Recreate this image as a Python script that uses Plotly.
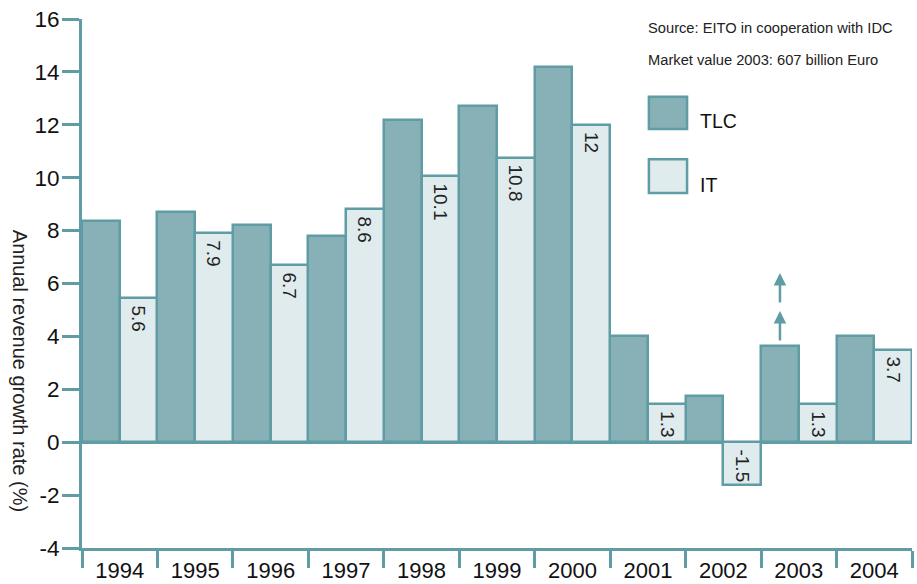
import plotly.graph_objects as go

years = ["1994", "1995", "1996", "1997", "1998", "1999", "2000", "2001", "2002", "2003", "2004"]
tlc = [8.35, 8.7, 8.2, 7.8, 12.2, 12.7, 14.2, 4.0, 1.75, 3.65, 4.0]
it = [5.45, 7.9, 6.7, 8.8, 10.05, 10.75, 12.0, 1.45, -1.6, 1.45, 3.5]
it_labels = ["5.6", "7.9", "6.7", "8.6", "10.1", "10.8", "12", "1.3", "-1.5", "1.3", "3.7"]
y_ticks = [-4, -2, 0, 2, 4, 6, 8, 10, 12, 14, 16]
y_tick_text = ["-4", "-2", "0", "2", "4", "6", "8", "10", "12", "14", "16"]
arrow_tips = [4.96, 6.4]

TEAL = "#5f9ca3"
TLC_FILL = "#87b1b7"
IT_FILL = "#e0ebed"
FONT = "Liberation Sans, Arial, sans-serif"

fig = go.Figure()
fig.add_trace(go.Bar(x=years, y=tlc, name="TLC", marker=dict(color=TLC_FILL, line=dict(color=TEAL, width=2.5))))
fig.add_trace(go.Bar(x=years, y=it, name="IT", marker=dict(color=IT_FILL, line=dict(color=TEAL, width=2.5))))

annotations = []
for i, (v, lab) in enumerate(zip(it, it_labels)):
    annotations.append(dict(
        x=i + 0.25, y=0 if v < 0 else v, xref="x", yref="y", text=lab, showarrow=False,
        textangle=90, yanchor="top", xanchor="center", yshift=-5,
        font=dict(family=FONT, size=19, color="#222222")))

idx2003 = years.index("2003")
for tip in arrow_tips:
    annotations.append(dict(
        x=idx2003 - 0.25, y=tip, xref="x", yref="y", ax=0, ay=31, axref="pixel", ayref="pixel",
        text="", showarrow=True, arrowhead=2, arrowsize=1, arrowwidth=2.5, arrowcolor=TEAL, standoff=0))

# y-axis title (reads top to bottom)
annotations.append(dict(
    x=-0.0747, y=0.335, xref="paper", yref="paper", xanchor="center", yanchor="middle",
    text="Annual revenue growth rate (%)",
    showarrow=False, textangle=90, font=dict(family=FONT, size=20, color="#222222")))

# source notes
annotations.append(dict(x=0.679, y=0.983, xref="paper", yref="paper", xanchor="left", yanchor="middle",
                        text="Source: EITO in cooperation with IDC", showarrow=False,
                        font=dict(family=FONT, size=14.7, color="#222222")))
annotations.append(dict(x=0.679, y=0.922, xref="paper", yref="paper", xanchor="left", yanchor="middle",
                        text="Market value 2003: 607 billion Euro", showarrow=False,
                        font=dict(family=FONT, size=14.7, color="#222222")))

# manual legend
shapes = [
    dict(type="rect", xref="paper", yref="paper", x0=0.683, x1=0.729, y0=0.792, y1=0.853,
         fillcolor=TLC_FILL, line=dict(color=TEAL, width=2.5)),
    dict(type="rect", xref="paper", yref="paper", x0=0.683, x1=0.729, y0=0.671, y1=0.735,
         fillcolor=IT_FILL, line=dict(color=TEAL, width=2.5)),
]
annotations.append(dict(x=0.742, y=0.807, xref="paper", yref="paper", xanchor="left", yanchor="middle",
                        text="TLC", showarrow=False, font=dict(family=FONT, size=19.5, color="#111111")))
annotations.append(dict(x=0.742, y=0.686, xref="paper", yref="paper", xanchor="left", yanchor="middle",
                        text="IT", showarrow=False, font=dict(family=FONT, size=19.5, color="#111111")))

fig.update_layout(
    width=917, height=584,
    margin=dict(l=82, r=5, t=19, b=36),
    paper_bgcolor="white", plot_bgcolor="white",
    barmode="group", bargap=0, bargroupgap=0,
    showlegend=False,
    annotations=annotations, shapes=shapes,
    font=dict(family=FONT, color="#111111"),
    xaxis=dict(type="category", tickson="boundaries", ticks="outside", ticklen=17, tickwidth=3,
               tickcolor=TEAL, showline=True, linecolor=TEAL, linewidth=3, showgrid=False,
               automargin=False, ticklabelstandoff=1,
               tickfont=dict(family=FONT, size=22, color="#111111"), fixedrange=True),
    yaxis=dict(range=[-4, 16], tickvals=y_ticks, ticktext=y_tick_text, ticks="outside", ticklen=17,
               tickwidth=3, tickcolor=TEAL, showline=True, linecolor=TEAL, linewidth=3, showgrid=False,
               zeroline=True, zerolinecolor=TEAL, zerolinewidth=3, automargin=False,
               ticklabelstandoff=-2,
               tickfont=dict(family=FONT, size=22.5, color="#111111"), fixedrange=True),
)

fig.write_html("out.html", config={"displayModeBar": False},
               post_script="document.body.style.margin='0';")
